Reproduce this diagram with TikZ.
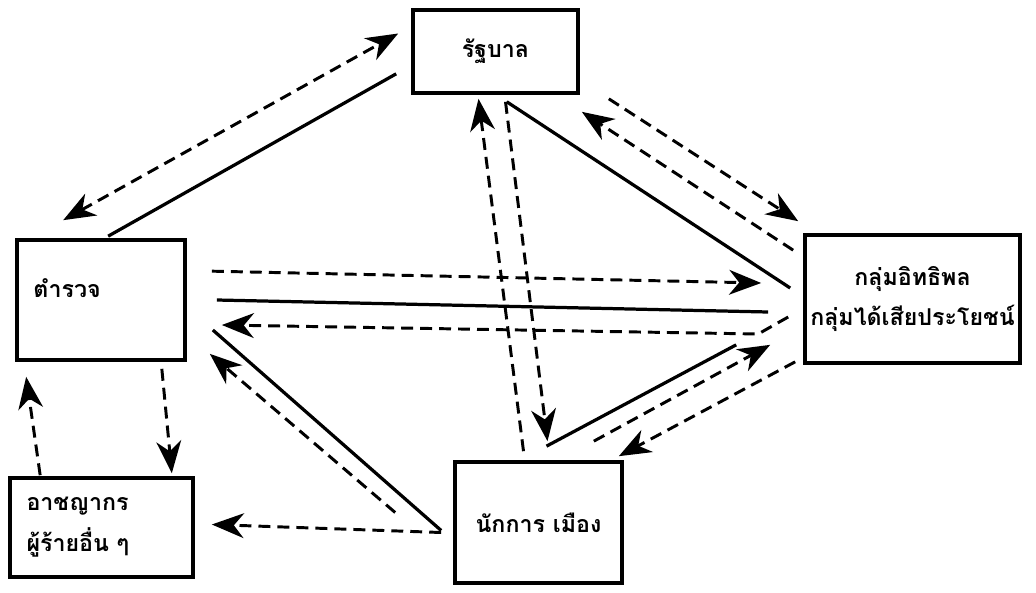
\documentclass[tikz,border=0pt]{standalone}
\usepackage{fontspec}
\newfontfamily\thaifont[Script=Thai]{Loma}
\usetikzlibrary{arrows.meta,positioning,calc}
\newdimen\pxu
\pxu=0.025cm

\begin{document}
\begin{tikzpicture}[x=0.025cm,y=-0.025cm,>={Stealth[length=0.8cm,width=0.62cm,inset=0.25cm]},
box/.style={draw,line width=2.6pt,inner sep=0pt,font=\thaifont\bfseries\fontsize{16.5}{29}\selectfont},
lbl/.style={inner sep=0pt,font=\thaifont\bfseries\fontsize{16.5}{29}\selectfont},
solidline/.style={line width=2.3pt},
dashline/.style={line width=2.1pt,dash pattern=on 8.5pt off 5pt}]
\useasboundingbox (0,0) rectangle (1036,592);
\node[box,minimum width=165\pxu,minimum height=83\pxu] (gov) at (495.5,51.5) {รัฐบาล};
\node[box,minimum width=168\pxu,minimum height=120\pxu] (police) at (101,300) {};
\node[lbl,anchor=west] (policetxt) at ($(police.west)+(18,-12)$) {ตำรวจ};
\node[box,minimum width=183\pxu,minimum height=99\pxu,text width=150\pxu,align=left] (crim) at (101.5,527.5) {อาชญากร\\ผู้ร้ายอื่น ๆ};
\node[box,minimum width=167\pxu,minimum height=121\pxu] (pol) at (538.5,522.5) {นักการ เมือง};
\node[box,minimum width=215\pxu,minimum height=128\pxu,align=center] (group) at (912.5,299) {กลุ่มอิทธิพล\\กลุ่มได้เสียประโยชน์};
% government and police
\draw[dashline,<->] ($(police.north west)+(48,-18)$) -- ($(gov.west)+(-13,-18)$);
\draw[solidline] ($(gov.south west)+(-15,-21)$) -- ($(police.north west)+(93,-2)$);
% government and groups
\draw[solidline] ($(gov.south east)+(-73,7)$) -- ($(group.west)+(-13,-11)$);
\draw[dashline,->] ($(group.north west)+(-10,17)$) -- ($(gov.south east)+(2,17)$);
\draw[dashline,->] ($(gov.south east)+(29,4)$) -- ($(group.north west)+(-5,-12)$);
% government and politician
\draw[dashline,->] ($(pol.north)+(-15,-9)$) -- ($(gov.south)+(-17,4)$);
\draw[dashline,->] ($(gov.south)+(10,7)$) -- ($(pol.north)+(9,-19)$);
% police and groups
\draw[dashline,->] ($(police.north east)+(25,33)$) -- ($(group.west)+(-42,-16)$);
\draw[solidline] ($(police.east)+(30,0)$) -- ($(group.west)+(-35,13)$);
\draw[dashline,->] ($(group.west)+(-15,18)$) -- ($(group.west)+(-45,35)$) -- ($(police.east)+(35,25)$);
% politician and police, criminals
\draw[solidline] ($(police.east)+(26,30)$) -- ($(pol.west)+(-12,8)$);
\draw[dashline,->] ($(pol.west)+(-58,-10)$) -- ($(police.south east)+(23,-8)$);
\draw[dashline,->] ($(pol.west)+(-12,10)$) -- ($(crim.east)+(17,-3)$);
% police and criminals
\draw[dashline,->] ($(police.south east)+(-25,7)$) -- ($(crim.north east)+(-23,-3)$);
\draw[dashline,->] ($(crim.north west)+(32,-1)$) -- ($(police.south west)+(11,15)$);
% politician and groups
\draw[solidline] ($(pol.north)+(8,-14)$) -- ($(group.south west)+(-67,-20)$);
\draw[dashline,->] ($(pol.north east)+(-30,-19)$) -- ($(group.south west)+(-33,-20)$);
\draw[dashline,->] ($(group.south west)+(-8,-3)$) -- ($(pol.north east)+(-5,-4)$);
\end{tikzpicture}
\end{document}
